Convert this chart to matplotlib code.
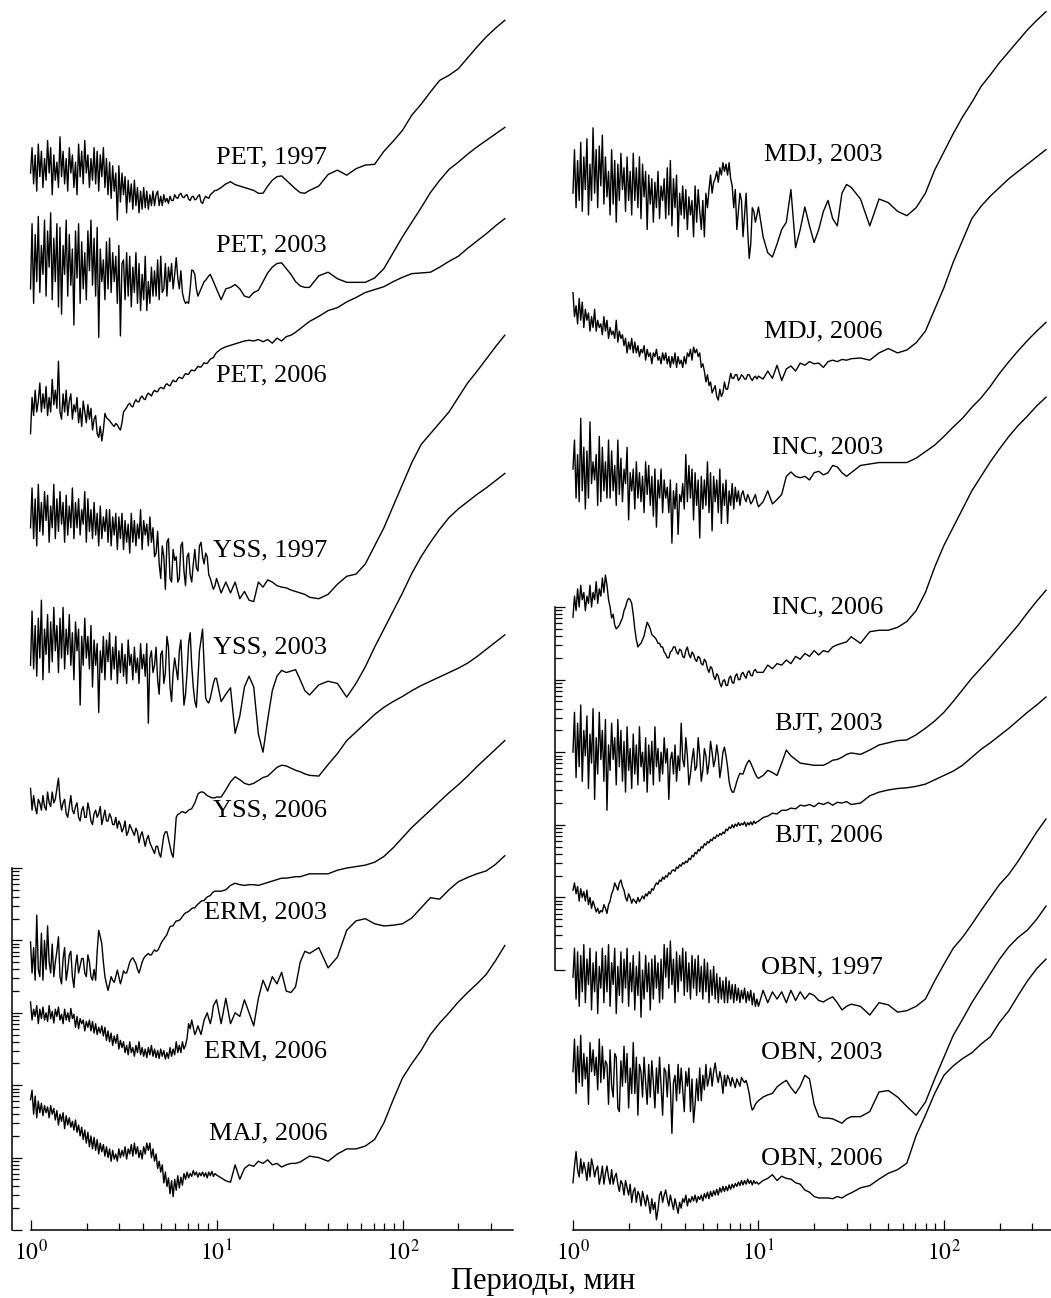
import numpy as np
import matplotlib
matplotlib.use("Agg")
import matplotlib.pyplot as plt
from matplotlib.ticker import FixedLocator, FixedFormatter, NullFormatter

plt.rcParams["font.family"] = ["Liberation Serif", "DejaVu Serif"]
plt.rcParams["mathtext.fontset"] = "stix"

# periods, minutes (shared sampling of all spectra)
PERIODS = [1.000, 1.019, 1.039, 1.059, 1.080, 1.101, 1.122, 1.144, 1.166, 1.189,
           1.212, 1.235, 1.259, 1.283, 1.308, 1.334, 1.359, 1.386, 1.413, 1.440,
           1.468, 1.496, 1.525, 1.555, 1.585, 1.616, 1.647, 1.679, 1.711, 1.745,
           1.778, 1.813, 1.848, 1.884, 1.920, 1.957, 1.995, 2.034, 2.073, 2.113,
           2.154, 2.196, 2.239, 2.282, 2.326, 2.371, 2.417, 2.464, 2.512, 2.560,
           2.610, 2.661, 2.712, 2.765, 2.818, 2.873, 2.929, 2.985, 3.043, 3.102,
           3.162, 3.223, 3.286, 3.350, 3.415, 3.481, 3.548, 3.617, 3.687, 3.758,
           3.831, 3.905, 3.981, 4.058, 4.137, 4.217, 4.299, 4.382, 4.467, 4.553,
           4.642, 4.732, 4.823, 4.917, 5.012, 5.109, 5.208, 5.309, 5.412, 5.516,
           5.623, 5.732, 5.843, 5.957, 6.072, 6.190, 6.310, 6.432, 6.556, 6.683,
           6.813, 6.945, 7.079, 7.217, 7.356, 7.499, 7.644, 7.792, 7.943, 8.097,
           8.254, 8.414, 8.577, 8.743, 8.913, 9.085, 9.261, 9.441, 9.624, 9.810,
           10.00,
           10.59, 11.22, 11.89, 12.59, 13.34, 14.13, 14.96, 15.85, 16.79, 17.78,
           18.84, 19.95, 21.13, 22.39, 23.71, 25.12, 26.61, 28.18, 29.85,
           31.62, 35.48, 39.81, 44.67, 50.12, 56.23, 63.10, 70.79, 79.43, 89.13,
           100.0, 112.2, 125.9, 141.3, 158.5, 177.8, 199.5, 223.9, 251.2, 281.8,
           316.2, 354.8]

# spectra, log10 of amplitude, stacked as in the figure
PET_1997 = ([14.6, 14.95, 14.45, 14.85, 14.35, 15.0, 14.55, 14.9, 14.4, 14.8,
             14.5, 15.05, 14.6, 14.95, 14.3, 14.85, 14.5, 14.75, 14.4, 15.1,
             14.55, 14.9, 14.45, 14.8, 14.35, 14.95, 14.6, 14.85, 14.4, 14.75,
             14.3, 15.0, 14.55, 14.9, 14.45, 15.05, 14.6, 14.85, 14.4, 14.8,
             14.5, 14.95, 14.45, 14.9, 14.35, 14.85, 14.55, 14.95, 14.4, 14.8,
             14.3, 14.75, 14.25, 14.7, 14.35, 14.6, 13.95, 14.7, 14.2, 14.6,
             14.3, 14.55, 14.05, 14.5, 14.2, 14.45, 14.1, 14.5, 14.15, 14.4,
             14.05, 14.35, 14.1, 14.4, 14.12, 14.35, 14.1, 14.3, 14.15, 14.35,
             14.15, 14.3, 14.35, 14.15, 14.28, 14.15, 14.3, 14.2, 14.25, 14.18,
             14.28, 14.22, 14.22, 14.3, 14.26, 14.25, 14.3, 14.32, 14.27, 14.26,
             14.29, 14.3, 14.24, 14.22, 14.27, 14.28, 14.23, 14.24, 14.28, 14.3,
             14.2, 14.18, 14.24, 14.28, 14.26, 14.25, 14.3, 14.32, 14.34, 14.36,
             14.36]
            + [14.4, 14.45, 14.48, 14.44, 14.42, 14.4, 14.38, 14.36, 14.32, 14.32,
               14.42, 14.5, 14.55, 14.56, 14.5, 14.44, 14.38, 14.33, 14.32]
            + [14.36, 14.42, 14.58, 14.64, 14.57, 14.66, 14.71, 14.72, 14.9, 15.04,
               15.19, 15.4, 15.55, 15.72, 15.88, 15.95, 16.04, 16.19, 16.34, 16.48,
               16.6, 16.71])
PET_2003 = ([13.0, 13.9, 12.8, 13.75, 13.1, 14.0, 12.95, 13.6, 13.2, 13.95,
             12.9, 13.8, 13.3, 14.05, 12.85, 13.7, 13.1, 13.9, 12.75, 13.85,
             12.65, 13.6, 13.2, 13.95, 12.9, 13.75, 13.05, 13.55, 12.5, 13.8,
             13.15, 13.9, 12.8, 13.65, 13.0, 13.5, 12.85, 13.8, 13.25, 13.95,
             13.05, 13.7, 12.9, 13.85, 12.33, 13.55, 13.1, 13.4, 12.85, 13.65,
             13.0, 13.7, 12.95, 13.5, 13.1, 13.45, 12.8, 13.6, 12.35, 13.35,
             13.4, 12.85, 13.5, 12.9, 13.45, 12.75, 13.3, 12.95, 13.5, 12.8,
             13.35, 12.7, 13.2, 12.85, 13.45, 12.7, 13.1, 12.8, 13.3, 12.9,
             13.25, 12.9, 13.4, 12.85, 13.45, 12.95, 13.0, 13.35, 12.9, 13.3,
             13.1, 13.35, 13.0, 13.2, 13.43, 13.15, 13.0, 13.25, 12.95, 12.85,
             12.8, 12.82, 12.8, 13.0, 13.26, 13.25, 13.2, 13.0, 12.9, 12.95,
             13.0, 13.05, 13.1, 13.12, 13.15, 13.18, 13.2, 13.15, 13.1, 13.05,
             13.0]
            + [12.85, 13.0, 13.02, 13.06, 13.0, 12.9, 12.88, 12.95, 12.98, 13.1,
               13.22, 13.3, 13.35, 13.36, 13.28, 13.2, 13.1, 13.04, 13.02]
            + [13.02, 13.18, 13.23, 13.14, 13.09, 13.09, 13.09, 13.15, 13.28, 13.5,
               13.72, 13.92, 14.12, 14.33, 14.5, 14.65, 14.75, 14.86, 14.96, 15.05,
               15.14, 15.23])
PET_2006 = ([11.0, 11.5, 11.25, 11.6, 11.3, 11.45, 11.7, 11.3, 11.55, 11.35,
             11.65, 11.25, 11.5, 11.3, 11.75, 11.4, 11.6, 11.35, 12.0, 11.3,
             11.2, 11.55, 11.3, 11.6, 11.25, 11.45, 11.55, 11.2, 11.4, 11.3,
             11.5, 11.15, 11.35, 11.1, 11.45, 11.3, 11.15, 11.4, 11.2, 11.35,
             11.05, 11.2, 11.25, 11.0, 10.95, 11.1, 10.9, 11.05, 11.28, 11.22,
             11.2, 11.18, 11.15, 11.12, 11.1, 11.14, 11.12, 11.08, 11.05, 11.15,
             11.3, 11.33, 11.36, 11.4, 11.42, 11.38, 11.37, 11.43, 11.47, 11.44,
             11.44, 11.5, 11.52, 11.48, 11.47, 11.53, 11.56, 11.54, 11.52, 11.57,
             11.6, 11.58, 11.58, 11.62, 11.64, 11.63, 11.62, 11.67, 11.69, 11.67,
             11.66, 11.7, 11.74, 11.72, 11.72, 11.76, 11.78, 11.77, 11.76, 11.8,
             11.83, 11.82, 11.82, 11.86, 11.88, 11.87, 11.87, 11.9, 11.93, 11.92,
             11.92, 11.95, 11.98, 11.97, 11.97, 12.0, 12.03, 12.04, 12.05, 12.09,
             12.12]
            + [12.17, 12.2, 12.22, 12.24, 12.26, 12.28, 12.29, 12.28, 12.3, 12.27,
               12.3, 12.25, 12.32, 12.28, 12.34, 12.36, 12.4, 12.45, 12.5]
            + [12.55, 12.62, 12.7, 12.74, 12.82, 12.88, 12.95, 12.99, 13.03, 13.1,
               13.16, 13.21, 13.22, 13.23, 13.3, 13.38, 13.45, 13.56, 13.66, 13.76,
               13.87, 13.97])
YSS_1997 = ([9.7, 10.25, 9.55, 10.1, 9.45, 10.3, 9.65, 10.05, 9.6, 10.2,
             9.8, 10.15, 9.5, 10.0, 9.7, 10.3, 9.55, 10.1, 9.65, 10.2,
             9.75, 10.05, 9.5, 10.15, 9.6, 10.0, 9.7, 10.25, 9.55, 10.05,
             9.7, 10.1, 9.6, 9.95, 9.75, 10.2, 9.5, 10.1, 9.65, 9.95,
             9.55, 10.05, 9.6, 9.9, 9.45, 10.0, 9.55, 9.85, 9.65, 9.95,
             9.5, 9.95, 9.45, 9.85, 9.6, 9.9, 9.4, 9.85, 9.55, 9.9,
             9.4, 9.8, 9.5, 9.75, 9.35, 9.9, 9.5, 9.8, 9.45, 9.75,
             9.55, 9.95, 9.4, 9.8, 9.6, 9.75, 9.45, 9.85, 9.5, 9.7,
             9.3, 9.35, 9.65, 9.2, 9.0, 9.45, 9.3, 8.85, 9.5, 9.55,
             9.0, 8.95, 9.4, 9.25, 9.3, 8.95, 9.0, 9.45, 9.5, 9.1,
             8.9, 9.3, 9.35, 9.05, 8.95, 9.2, 9.4, 9.15, 9.1, 9.45,
             9.5, 9.3, 9.2, 9.35, 9.3, 9.05, 9.0, 8.92, 8.85, 8.9,
             9.0]
            + [8.8, 8.95, 8.8, 8.95, 8.72, 8.82, 8.7, 8.68, 8.95, 8.88,
               8.98, 8.95, 8.9, 8.88, 8.87, 8.84, 8.82, 8.8, 8.78]
            + [8.74, 8.72, 8.78, 8.92, 9.03, 9.06, 9.2, 9.45, 9.7, 10.0,
               10.3, 10.6, 10.85, 11.0, 11.15, 11.3, 11.5, 11.7, 11.86, 12.03,
               12.2, 12.36])
YSS_2003 = ([7.8, 8.55, 7.75, 8.35, 7.65, 8.45, 7.9, 8.7, 7.6, 8.3,
             7.95, 8.5, 7.7, 8.4, 7.85, 8.6, 8.0, 8.35, 7.7, 8.45,
             7.9, 8.6, 7.75, 8.3, 7.95, 8.5, 7.8, 8.25, 7.6, 8.4,
             8.0, 8.3, 7.25, 8.2, 7.8, 8.45, 7.9, 8.2, 7.75, 8.35,
             7.5, 8.15, 7.8, 8.1, 7.15, 8.0, 7.7, 8.2, 7.6, 8.15,
             7.85, 8.25, 7.6, 8.05, 7.75, 8.2, 7.55, 8.0, 7.7, 8.1,
             7.65, 7.95, 7.55, 8.15, 7.8, 7.95, 7.6, 8.05, 7.7, 7.9,
             7.55, 8.1, 7.75, 7.95, 7.65, 8.1, 7.0, 7.9, 8.0, 7.7,
             7.8, 8.05, 7.6, 7.4, 7.95, 8.0, 7.55, 7.7, 8.2, 8.05,
             7.5, 7.3, 7.7, 7.9, 7.75, 7.6, 8.0, 8.15, 7.7, 7.25,
             7.4, 7.7, 8.1, 8.25, 7.8, 7.5, 7.3, 7.22, 7.6, 8.0,
             8.15, 8.3, 7.8, 7.35, 7.3, 7.28, 7.35, 7.45, 7.55, 7.62,
             7.62]
            + [7.3, 7.4, 7.49, 6.86, 7.1, 7.5, 7.65, 7.5, 6.85, 6.6,
               7.05, 7.45, 7.65, 7.73, 7.7, 7.72, 7.74, 7.6, 7.45]
            + [7.39, 7.53, 7.58, 7.55, 7.36, 7.55, 7.78, 8.05, 8.3, 8.55,
               8.8, 9.07, 9.3, 9.5, 9.68, 9.84, 9.96, 10.06, 10.16, 10.25,
               10.35, 10.45])
YSS_2006 = ([6.1, 5.8, 6.0, 5.85, 5.75, 5.95, 5.9, 5.8, 6.0, 5.85,
             5.8, 6.05, 5.9, 5.85, 6.05, 5.9, 5.95, 6.1, 6.24, 5.95,
             5.8, 5.9, 5.95, 5.75, 5.7, 5.85, 6.0, 5.8, 5.75, 5.85,
             5.9, 5.7, 5.65, 5.8, 5.85, 5.7, 5.7, 5.9, 5.8, 5.65,
             5.6, 5.75, 5.8, 5.7, 5.75, 5.85, 5.6, 5.7, 5.8, 5.65,
             5.65, 5.75, 5.7, 5.6, 5.6, 5.7, 5.55, 5.65, 5.6, 5.5,
             5.55, 5.65, 5.45, 5.5, 5.6, 5.55, 5.5, 5.45, 5.55, 5.5,
             5.35, 5.45, 5.5, 5.4, 5.3, 5.4, 5.45, 5.35, 5.3, 5.25,
             5.2, 5.3, 5.3, 5.2, 5.15, 5.3, 5.45, 5.5, 5.5, 5.4,
             5.3, 5.2, 5.15, 5.4, 5.7, 5.74, 5.75, 5.77, 5.78, 5.77,
             5.76, 5.78, 5.8, 5.81, 5.82, 5.86, 5.9, 5.96, 6.02, 6.04,
             6.05, 6.05, 6.04, 6.02, 6.0, 5.99, 5.98, 5.97, 5.97, 5.97,
             5.98]
            + [5.98, 6.08, 6.19, 6.26, 6.22, 6.17, 6.15, 6.17, 6.21, 6.25,
               6.27, 6.33, 6.39, 6.42, 6.41, 6.38, 6.35, 6.33, 6.3]
            + [6.28, 6.27, 6.43, 6.58, 6.76, 6.88, 7.0, 7.12, 7.22, 7.3,
               7.37, 7.45, 7.52, 7.58, 7.64, 7.7, 7.76, 7.83, 7.92, 8.02,
               8.12, 8.22])
ERM_2003 = ([3.98, 3.55, 3.9, 3.45, 4.35, 3.6, 3.5, 4.1, 3.45, 4.0,
             3.6, 4.2, 3.7, 3.55, 3.95, 3.5, 3.7, 3.85, 4.05, 3.5,
             3.4, 3.75, 3.9, 3.45, 3.6, 3.8, 3.85, 3.5, 3.35, 3.65,
             3.8, 3.55, 3.65, 3.75, 3.75, 3.55, 3.5, 3.8, 3.7, 3.5,
             3.45, 3.6, 3.45, 3.85, 4.14, 4.05, 3.95, 3.7, 3.5, 3.4,
             3.31, 3.4, 3.5, 3.45, 3.42, 3.5, 3.59, 3.5, 3.4, 3.48,
             3.58, 3.55, 3.55, 3.62, 3.7, 3.74, 3.76, 3.72, 3.68, 3.6,
             3.55, 3.62, 3.7, 3.75, 3.78, 3.8, 3.82, 3.8, 3.8, 3.84,
             3.87, 3.85, 3.86, 3.9, 3.95, 3.99, 4.02, 4.05, 4.08, 4.14,
             4.19, 4.2, 4.2, 4.24, 4.27, 4.27, 4.28, 4.3, 4.33, 4.36,
             4.38, 4.39, 4.4, 4.42, 4.44, 4.45, 4.45, 4.48, 4.5, 4.52,
             4.54, 4.55, 4.55, 4.58, 4.6, 4.61, 4.62, 4.65, 4.67, 4.68,
             4.68]
            + [4.68, 4.7, 4.76, 4.79, 4.77, 4.76, 4.77, 4.77, 4.76, 4.78,
               4.8, 4.82, 4.84, 4.86, 4.86, 4.87, 4.88, 4.88, 4.9]
            + [4.92, 4.92, 4.92, 4.97, 5.0, 5.02, 5.04, 5.08, 5.16, 5.28,
               5.42, 5.56, 5.68, 5.8, 5.92, 6.04, 6.15, 6.27, 6.4, 6.52,
               6.64, 6.76])
ERM_2006 = ([3.15, 2.9, 3.05, 2.95, 3.1, 2.85, 3.05, 2.92, 3.08, 2.9,
             3.0, 2.88, 3.1, 2.92, 3.02, 2.86, 3.05, 2.95, 3.08, 2.9,
             2.98, 2.85, 3.05, 2.9, 3.0, 2.88, 3.06, 2.92, 2.98, 2.8,
             2.95, 2.78, 2.92, 2.85, 2.9, 2.75, 2.88, 2.8, 2.9, 2.75,
             2.88, 2.72, 2.85, 2.7, 2.8, 2.72, 2.82, 2.68, 2.8, 2.62,
             2.75, 2.6, 2.72, 2.55, 2.68, 2.58, 2.7, 2.5, 2.62, 2.52,
             2.6, 2.45, 2.55, 2.42, 2.6, 2.45, 2.52, 2.4, 2.55, 2.45,
             2.6, 2.42, 2.52, 2.4, 2.5, 2.38, 2.52, 2.42, 2.55, 2.4,
             2.5, 2.38, 2.48, 2.37, 2.5, 2.4, 2.48, 2.36, 2.45, 2.37,
             2.52, 2.4, 2.5, 2.42, 2.6, 2.45, 2.55, 2.45, 2.6, 2.5,
             2.55, 2.65, 2.85, 2.78, 2.9, 2.8, 2.7, 2.75, 2.82, 2.76,
             2.7, 2.8, 2.9, 2.95, 3.0, 2.92, 2.85, 2.95, 3.1, 3.14,
             3.18]
            + [2.85, 3.2, 2.85, 3.0, 2.95, 3.18, 3.0, 2.82, 3.2, 3.45,
               3.3, 3.5, 3.4, 3.56, 3.3, 3.28, 3.36, 3.7, 3.85]
            + [3.82, 3.9, 3.62, 3.77, 4.14, 4.27, 4.3, 4.23, 4.2, 4.21,
               4.23, 4.31, 4.45, 4.59, 4.57, 4.7, 4.81, 4.87, 4.92, 4.96,
               5.05, 5.17])
MAJ_2006 = ([1.8, 1.93, 1.6, 1.85, 1.55, 1.78, 1.62, 1.75, 1.58, 1.72,
             1.62, 1.7, 1.55, 1.72, 1.6, 1.68, 1.52, 1.65, 1.45, 1.6,
             1.5, 1.62, 1.4, 1.58, 1.45, 1.55, 1.42, 1.5, 1.38, 1.52,
             1.35, 1.45, 1.3, 1.42, 1.25, 1.38, 1.2, 1.35, 1.15, 1.3,
             1.12, 1.28, 1.1, 1.25, 1.05, 1.2, 1.08, 1.18, 1.02, 1.15,
             1.0, 1.12, 0.95, 1.1, 0.98, 1.05, 0.95, 1.12, 1.0, 1.1,
             1.02, 1.15, 0.98, 1.12, 1.05, 1.18, 1.02, 1.2, 1.05, 1.15,
             1.0, 1.1, 0.98, 1.15, 1.05, 1.2, 1.1, 1.2, 1.0, 1.12,
             0.95, 1.05, 0.85, 0.95, 0.8, 0.9, 0.65, 0.8, 0.6, 0.72,
             0.5, 0.68, 0.46, 0.7, 0.55, 0.75, 0.58, 0.73, 0.62, 0.78,
             0.7, 0.8, 0.72, 0.78, 0.74, 0.82, 0.76, 0.8, 0.73, 0.79,
             0.75, 0.8, 0.74, 0.79, 0.72, 0.8, 0.75, 0.81, 0.74, 0.78,
             0.76]
            + [0.72, 0.68, 0.66, 0.9, 0.7, 0.85, 0.9, 0.88, 0.95, 0.92,
               0.97, 0.9, 0.92, 0.87, 0.9, 0.92, 0.92, 0.94, 0.98]
            + [1.02, 1.0, 0.95, 1.05, 1.12, 1.12, 1.16, 1.25, 1.48, 1.8,
               2.1, 2.3, 2.48, 2.7, 2.86, 3.0, 3.15, 3.28, 3.4, 3.53,
               3.72, 3.93])

MDJ_2003 = ([10.7, 11.3, 10.5, 11.15, 10.6, 11.4, 10.45, 11.2, 10.75, 11.45,
             10.4, 11.1, 10.6, 11.6, 10.7, 11.3, 10.5, 11.35, 10.8, 11.5,
             10.55, 11.2, 10.65, 11.0, 10.4, 11.3, 10.55, 11.15, 10.3, 11.1,
             10.6, 11.25, 10.75, 11.05, 10.45, 11.2, 10.6, 11.0, 10.4, 11.25,
             10.6, 11.05, 10.5, 11.2, 10.35, 11.1, 10.65, 11.0, 10.2, 10.95,
             10.55, 10.9, 10.3, 10.85, 10.5, 11.0, 10.35, 10.8, 10.6, 10.9,
             10.35, 11.05, 10.4, 11.15, 10.25, 10.9, 10.5, 10.95, 10.1, 10.7,
             10.4, 10.8, 10.35, 10.75, 10.2, 10.65, 10.4, 10.6, 10.1, 10.8,
             10.3, 10.75, 10.45, 10.2, 10.6, 10.1, 10.7, 10.5, 10.75, 10.95,
             10.7, 10.85, 10.9, 11.0, 10.85, 11.05, 10.95, 11.12, 11.0, 11.1,
             10.95, 11.12, 10.9, 10.8, 10.5, 10.75, 10.2, 10.45, 10.7, 10.6,
             10.1, 10.4, 10.7, 10.2, 9.8, 10.0, 10.5, 10.45, 10.3, 10.4,
             10.51]
            + [10.1, 9.88, 9.82, 10.0, 10.2, 10.3, 10.75, 9.95, 10.2, 10.51,
               10.25, 10.02, 10.2, 10.45, 10.6, 10.35, 10.25, 10.7, 10.82]
            + [10.78, 10.62, 10.25, 10.62, 10.57, 10.45, 10.39, 10.5, 10.7, 11.02,
               11.27, 11.52, 11.75, 11.95, 12.17, 12.33, 12.5, 12.65, 12.8, 12.95,
               13.08, 13.2])
MDJ_2006 = ([9.33, 9.0, 9.15, 8.9, 9.25, 8.95, 9.2, 8.85, 9.1, 8.95,
             9.05, 8.8, 9.0, 8.85, 9.1, 8.8, 8.95, 8.85, 8.9, 8.75,
             9.0, 8.8, 8.95, 8.7, 8.85, 8.75, 8.8, 8.7, 8.95, 8.65,
             8.8, 8.7, 8.75, 8.6, 8.7, 8.5, 8.65, 8.55, 8.7, 8.5,
             8.65, 8.5, 8.6, 8.45, 8.55, 8.5, 8.6, 8.4, 8.55, 8.45,
             8.5, 8.35, 8.5, 8.45, 8.55, 8.4, 8.45, 8.35, 8.5, 8.4,
             8.5, 8.35, 8.45, 8.3, 8.45, 8.35, 8.5, 8.3, 8.45, 8.35,
             8.4, 8.3, 8.45, 8.35, 8.5, 8.45, 8.55, 8.4, 8.58, 8.5,
             8.55, 8.45, 8.5, 8.3, 8.35, 8.25, 8.1, 8.2, 8.05, 8.1,
             7.95, 8.0, 8.05, 7.9, 7.85, 8.0, 7.9, 7.95, 8.1, 8.0,
             8.0, 8.1, 8.22, 8.15, 8.15, 8.2, 8.2, 8.12, 8.15, 8.2,
             8.18, 8.14, 8.14, 8.2, 8.2, 8.15, 8.12, 8.16, 8.18, 8.14,
             8.18]
            + [8.14, 8.25, 8.15, 8.33, 8.12, 8.28, 8.32, 8.25, 8.36, 8.33,
               8.38, 8.35, 8.36, 8.3, 8.38, 8.4, 8.38, 8.41, 8.4]
            + [8.42, 8.43, 8.4, 8.5, 8.56, 8.5, 8.54, 8.64, 8.8, 9.1,
               9.4, 9.75, 10.05, 10.35, 10.52, 10.66, 10.78, 10.9, 11.0, 11.1,
               11.2, 11.3])
INC_2003 = ([6.9, 7.3, 6.5, 7.1, 6.45, 7.6, 6.6, 7.2, 6.35, 7.15,
             6.5, 7.55, 6.7, 7.0, 6.75, 7.1, 6.4, 7.35, 6.45, 7.2,
             6.6, 7.0, 6.5, 7.3, 6.5, 7.15, 6.6, 6.95, 6.4, 7.3,
             6.55, 7.05, 6.45, 6.9, 6.7, 7.2, 6.2, 6.85, 6.6, 6.9,
             6.35, 7.0, 6.5, 6.85, 6.45, 6.8, 6.3, 7.0, 6.55, 6.95,
             6.4, 6.8, 6.25, 6.9, 6.1, 6.75, 6.5, 6.9, 6.3, 6.75,
             6.5, 6.65, 6.3, 6.75, 5.88, 6.6, 6.35, 6.7, 6.0, 6.55,
             6.45, 6.7, 6.35, 7.1, 6.45, 6.95, 6.5, 6.9, 6.2, 6.85,
             6.4, 6.75, 5.95, 6.8, 6.35, 6.75, 6.4, 7.0, 6.3, 6.85,
             6.05, 6.8, 6.45, 6.75, 6.3, 6.9, 6.15, 6.7, 6.4, 6.75,
             6.15, 6.6, 6.4, 6.7, 6.35, 6.65, 6.45, 6.6, 6.4, 6.55,
             6.6, 6.5, 6.45, 6.55, 6.5, 6.42, 6.45, 6.5, 6.55, 6.45,
             6.38]
            + [6.45, 6.6, 6.42, 6.48, 6.55, 6.8, 6.86, 6.8, 6.78, 6.8,
               6.75, 6.85, 6.87, 6.82, 6.85, 6.95, 6.93, 6.85, 6.8]
            + [6.85, 6.95, 6.97, 6.99, 6.99, 6.99, 6.99, 7.05, 7.14, 7.23,
               7.35, 7.48, 7.6, 7.75, 7.88, 8.04, 8.22, 8.38, 8.53, 8.67,
               8.8, 8.92])
INC_2006 = ([4.86, 5.15, 4.95, 5.25, 5.0, 5.3, 5.1, 5.2, 4.95, 5.15,
             5.05, 5.3, 5.0, 5.2, 5.1, 5.35, 5.05, 5.25, 5.15, 5.4,
             5.2, 5.44, 5.3, 5.1, 5.0, 4.85, 4.9, 4.75, 4.7, 4.72,
             4.75, 4.8, 4.85, 4.95, 5.0, 5.08, 5.12, 5.1, 5.05, 4.9,
             4.7, 4.55, 4.45, 4.48, 4.5, 4.55, 4.6, 4.7, 4.79, 4.75,
             4.7, 4.62, 4.6, 4.58, 4.55, 4.5, 4.5, 4.45, 4.45, 4.38,
             4.35, 4.3, 4.3, 4.38, 4.4, 4.45, 4.45, 4.38, 4.35, 4.42,
             4.4, 4.32, 4.3, 4.4, 4.45, 4.35, 4.3, 4.38, 4.35, 4.28,
             4.25, 4.32, 4.3, 4.22, 4.2, 4.28, 4.25, 4.15, 4.1, 4.18,
             4.15, 4.05, 4.0, 4.08, 4.05, 3.95, 3.9, 3.98, 4.0, 3.92,
             3.92, 4.02, 4.05, 3.96, 3.95, 4.05, 4.08, 4.0, 4.0, 4.08,
             4.1, 4.05, 4.02, 4.1, 4.12, 4.06, 4.05, 4.12, 4.14, 4.1,
             4.1]
            + [4.1, 4.2, 4.15, 4.22, 4.2, 4.27, 4.22, 4.32, 4.28, 4.36,
               4.32, 4.4, 4.34, 4.4, 4.38, 4.45, 4.48, 4.5, 4.52]
            + [4.59, 4.5, 4.66, 4.68, 4.68, 4.72, 4.8, 4.95, 5.2, 5.55,
               5.85, 6.1, 6.35, 6.6, 6.8, 7.0, 7.18, 7.35, 7.5, 7.63,
               7.77, 7.89])
BJT_2003 = ([3.0, 3.55, 2.65, 3.4, 2.8, 3.65, 2.6, 3.3, 2.95, 3.5,
             2.5, 3.25, 2.85, 3.6, 2.35, 3.2, 2.7, 3.55, 2.9, 3.3,
             2.6, 3.45, 2.2, 3.1, 2.75, 3.4, 2.9, 3.2, 2.55, 3.45,
             2.8, 3.3, 2.6, 3.15, 2.45, 3.35, 2.75, 3.05, 2.5, 3.25,
             2.7, 3.1, 2.55, 3.35, 2.8, 3.0, 2.6, 3.2, 2.45, 3.1,
             2.7, 3.15, 2.55, 3.35, 2.8, 3.05, 2.6, 3.0, 2.7, 3.2,
             2.85, 3.05, 2.35, 2.9, 3.0, 2.7, 3.1, 2.6, 2.95, 2.75,
             3.4, 2.9, 2.8, 3.2, 2.95, 2.55, 2.7, 2.9, 3.05, 2.75,
             2.8, 3.2, 2.95, 2.6, 2.75, 3.05, 2.95, 2.7, 2.85, 3.15,
             3.0, 2.8, 2.9, 3.1, 2.95, 2.65, 2.8, 3.0, 3.07, 2.95,
             2.8, 2.6, 2.5, 2.45, 2.45, 2.52, 2.6, 2.66, 2.71, 2.7,
             2.7, 2.76, 2.82, 2.86, 2.89, 2.85, 2.8, 2.75, 2.7, 2.66,
             2.64]
            + [2.68, 2.75, 2.72, 2.68, 2.85, 3.03, 2.95, 2.9, 2.85, 2.84,
               2.83, 2.82, 2.82, 2.82, 2.85, 2.89, 2.9, 2.93, 2.97]
            + [2.99, 2.97, 3.03, 3.1, 3.13, 3.16, 3.17, 3.24, 3.33, 3.43,
               3.55, 3.7, 3.86, 4.02, 4.16, 4.3, 4.45, 4.6, 4.75, 4.92,
               5.08, 5.23])
BJT_2006 = ([1.1, 1.2, 1.05, 1.15, 0.95, 1.12, 1.0, 1.08, 0.95, 1.1,
             0.9, 1.0, 0.85, 0.95, 0.88, 0.8, 0.85, 0.78, 0.82, 0.8,
             0.9, 0.85, 0.78, 0.9, 0.95, 1.05, 1.1, 1.2, 1.15, 1.1,
             1.2, 1.24, 1.15, 1.1, 1.0, 0.95, 1.05, 1.0, 0.92, 0.98,
             0.95, 0.92, 1.0, 0.94, 0.98, 1.02, 0.98, 1.05, 1.02, 1.08,
             1.05, 1.12, 1.1, 1.16, 1.2, 1.18, 1.24, 1.22, 1.28, 1.25,
             1.3, 1.28, 1.34, 1.32, 1.37, 1.38, 1.36, 1.42, 1.4, 1.45,
             1.43, 1.48, 1.46, 1.5, 1.48, 1.54, 1.52, 1.58, 1.56, 1.62,
             1.6, 1.66, 1.64, 1.7, 1.68, 1.74, 1.72, 1.77, 1.75, 1.8,
             1.78, 1.83, 1.81, 1.86, 1.84, 1.88, 1.86, 1.9, 1.88, 1.94,
             1.92, 1.97, 1.95, 2.0, 1.96, 2.01, 1.98, 2.03, 1.99, 2.02,
             2.0, 2.04, 1.98, 2.03, 2.0, 2.04, 2.0, 2.05, 2.02, 2.04,
             2.05]
            + [2.1, 2.12, 2.16, 2.15, 2.2, 2.2, 2.23, 2.22, 2.27, 2.26,
               2.28, 2.25, 2.3, 2.28, 2.31, 2.27, 2.31, 2.3, 2.32]
            + [2.28, 2.3, 2.4, 2.45, 2.48, 2.5, 2.51, 2.53, 2.56, 2.62,
               2.68, 2.74, 2.82, 2.93, 3.04, 3.13, 3.23, 3.33, 3.44, 3.55,
               3.65, 3.76])
OBN_1997 = ([-0.1, 0.3, -0.4, 0.25, -0.5, 0.2, -0.3, 0.35, -0.45, 0.15,
             -0.2, 0.3, -0.55, 0.1, -0.3, 0.25, -0.6, 0.05, -0.25, 0.3,
             -0.45, 0.2, -0.3, 0.35, -0.5, 0.1, -0.2, 0.3, -0.6, 0.05,
             -0.35, 0.25, -0.45, 0.15, -0.25, 0.3, -0.5, 0.1, -0.3, 0.2,
             -0.55, 0.05, -0.35, 0.25, -0.65, 0.0, -0.4, 0.2, -0.3, 0.1,
             -0.55, 0.15, -0.4, 0.2, -0.25, 0.1, -0.45, 0.15, -0.4, 0.35,
             -0.1, 0.3, -0.25, 0.4, -0.2, 0.15, -0.45, 0.25, -0.3, 0.2,
             -0.15, 0.3, -0.35, 0.25, -0.3, 0.1, -0.4, 0.2, -0.25, 0.15,
             -0.35, 0.2, -0.3, 0.05, -0.4, 0.15, -0.3, 0.1, -0.45, 0.0,
             -0.35, 0.05, -0.4, -0.05, -0.45, -0.1, -0.4, -0.15, -0.45, -0.1,
             -0.45, -0.15, -0.4, -0.2, -0.45, -0.2, -0.42, -0.25, -0.45, -0.28,
             -0.4, -0.25, -0.45, -0.3, -0.42, -0.28, -0.48, -0.32, -0.5, -0.4,
             -0.5]
            + [-0.28, -0.45, -0.3, -0.4, -0.3, -0.45, -0.28, -0.42, -0.3, -0.4,
               -0.32, -0.35, -0.42, -0.44, -0.4, -0.37, -0.45, -0.55, -0.5]
            + [-0.47, -0.5, -0.62, -0.45, -0.48, -0.58, -0.56, -0.5, -0.4, -0.15,
               0.08, 0.3, 0.45, 0.63, 0.82, 1.0, 1.18, 1.32, 1.5, 1.7,
               1.9, 2.08])
OBN_2003 = ([-1.4, -0.95, -1.7, -1.05, -1.55, -0.9, -1.6, -1.15, -1.5, -1.2,
             -1.85, -1.0, -1.4, -1.1, -1.45, -1.2, -1.65, -0.95, -1.55, -1.05,
             -1.5, -1.25, -1.3, -1.85, -1.1, -1.6, -1.75, -1.15, -1.2, -1.9,
             -1.95, -1.25, -1.6, -1.05, -1.55, -1.15, -1.9, -1.35, -1.7, -1.0,
             -1.7, -1.2, -2.0, -1.3, -1.4, -1.75, -1.2, -1.55, -1.85, -1.3,
             -1.75, -1.25, -1.55, -1.9, -1.35, -1.7, -1.2, -1.6, -2.0, -1.35,
             -1.4, -1.75, -1.3, -1.6, -2.25, -1.55, -1.45, -1.8, -1.3, -1.7,
             -1.35, -1.65, -1.95, -1.4, -1.6, -1.35, -1.95, -1.5, -2.1, -1.85,
             -1.5, -1.8, -1.35, -1.8, -1.45, -1.65, -1.3, -1.6, -1.5, -1.35,
             -1.6, -1.4, -1.28, -1.45, -1.55, -1.4, -1.5, -1.7, -1.45, -1.6,
             -1.45, -1.5, -1.6, -1.48, -1.55, -1.62, -1.5, -1.55, -1.6, -1.48,
             -1.52, -1.55, -1.52, -1.6, -1.7, -1.85, -1.93, -1.9, -1.85, -1.82,
             -1.8]
            + [-1.75, -1.72, -1.7, -1.61, -1.56, -1.52, -1.62, -1.7, -1.6, -1.45,
               -1.5, -1.85, -2.02, -2.04, -2.04, -2.05, -2.08, -2.11, -2.05]
            + [-2.02, -2.02, -1.95, -1.68, -1.66, -1.75, -1.88, -2.0, -1.82, -1.5,
               -1.2, -0.9, -0.68, -0.45, -0.25, -0.05, 0.15, 0.32, 0.45, 0.55,
               0.7, 0.88])
OBN_2006 = ([-2.93, -2.7, -2.5, -2.75, -2.85, -2.6, -2.8, -2.65, -2.75, -2.9,
             -2.65, -2.85, -2.6, -2.7, -2.85, -2.75, -2.7, -2.95, -2.85, -2.7,
             -2.95, -2.8, -2.7, -2.85, -2.95, -2.75, -2.95, -2.85, -2.8, -2.95,
             -3.05, -2.9, -2.95, -3.1, -2.9, -3.0, -3.1, -2.95, -3.2, -3.05,
             -3.0, -3.2, -3.05, -3.1, -3.25, -3.05, -3.15, -3.25, -3.1, -3.2,
             -3.35, -3.15, -3.3, -3.2, -3.44, -3.3, -3.1, -3.05, -3.2, -3.1,
             -3.03, -3.15, -3.25, -3.1, -3.2, -3.3, -3.15, -3.25, -3.35, -3.2,
             -3.28, -3.15, -3.2, -3.1, -3.25, -3.15, -3.2, -3.12, -3.18, -3.1,
             -3.2, -3.12, -3.16, -3.1, -3.18, -3.08, -3.14, -3.06, -3.15, -3.05,
             -3.12, -3.04, -3.1, -3.02, -3.1, -3.0, -3.06, -2.98, -3.05, -2.98,
             -3.04, -2.96, -3.02, -2.95, -3.0, -2.94, -2.98, -2.92, -2.97, -2.9,
             -2.96, -2.9, -2.95, -2.88, -2.94, -2.9, -2.96, -2.9, -2.94, -2.92,
             -2.95]
            + [-2.9, -2.87, -2.82, -2.9, -2.84, -2.87, -2.88, -2.93, -2.95, -3.03,
               -3.06, -3.12, -3.14, -3.14, -3.14, -3.15, -3.12, -3.14, -3.1]
            + [-3.07, -3.0, -2.97, -2.88, -2.8, -2.75, -2.66, -2.28, -2.0, -1.7,
               -1.45, -1.32, -1.22, -1.14, -1.02, -0.92, -0.72, -0.56, -0.35, -0.15,
               0.02, 0.15])

LEFT_CURVES = [PET_1997, PET_2003, PET_2006, YSS_1997, YSS_2003, YSS_2006,
               ERM_2003, ERM_2006, MAJ_2006]
LEFT_NAMES = ["PET, 1997", "PET, 2003", "PET, 2006", "YSS, 1997", "YSS, 2003",
              "YSS, 2006", "ERM, 2003", "ERM, 2006", "MAJ, 2006"]
RIGHT_CURVES = [MDJ_2003, MDJ_2006, INC_2003, INC_2006, BJT_2003, BJT_2006,
                OBN_1997, OBN_2003, OBN_2006]
RIGHT_NAMES = ["MDJ, 2003", "MDJ, 2006", "INC, 2003", "INC, 2006", "BJT, 2003",
               "BJT, 2006", "OBN, 1997", "OBN, 2003", "OBN, 2006"]

# label anchors (log10 amplitude of the label centre)
LEFT_LABEL_Y = [14.82, 13.6, 11.81, 9.39, 8.04, 5.8, 4.38, 2.46, 1.34]
RIGHT_LABEL_Y = [11.23, 8.79, 7.2, 4.99, 3.4, 1.85, 0.04, -1.14, -2.59]


def setup_axes(ax, xmin, xmax, ylog_min, ylog_max):
    ax.set_xscale("log")
    ax.set_yscale("log")
    ax.set_xlim(xmin, xmax)
    ax.set_ylim(10.0 ** ylog_min, 10.0 ** ylog_max)
    ax.patch.set_alpha(0)
    for side in ("top", "right"):
        ax.spines[side].set_visible(False)
    ax.spines["bottom"].set_bounds(1, xmax)
    ax.spines["left"].set_bounds(1, 1e5)
    for side in ("bottom", "left"):
        ax.spines[side].set_linewidth(1.1)

    ax.xaxis.set_major_locator(FixedLocator([1, 10, 100]))
    ax.xaxis.set_major_formatter(FixedFormatter([r"$10^0$", r"$10^1$", r"$10^2$"]))
    xminor = [m * 10 ** e for e in (0, 1) for m in range(2, 10)] + [200, 300]
    ax.xaxis.set_minor_locator(FixedLocator(xminor))
    ax.xaxis.set_minor_formatter(NullFormatter())

    ax.yaxis.set_major_locator(FixedLocator([10.0 ** k for k in range(6)]))
    ax.yaxis.set_major_formatter(NullFormatter())
    yminor = [m * 10.0 ** k for k in range(5) for m in range(2, 10)]
    ax.yaxis.set_minor_locator(FixedLocator(yminor))
    ax.yaxis.set_minor_formatter(NullFormatter())

    ax.tick_params(which="both", direction="in", width=0.9, top=False, right=False)
    ax.tick_params(which="major", length=7, labelsize=17, pad=7)
    ax.tick_params(which="minor", length=4.7)


def draw_panel(ax, curves, names, label_y, label_x):
    for curve, name, ly in zip(curves, names, label_y):
        assert len(curve) == len(PERIODS), (name, len(curve))
        ax.plot(PERIODS, 10.0 ** np.asarray(curve), color="black", lw=1.0)
        ax.text(label_x, 10.0 ** ly, name, ha="right", va="center", fontsize=19)


fig = plt.figure(figsize=(10.51, 12.98), dpi=100)

ax_left = fig.add_axes([12 / 1051, 68 / 1298, 501 / 1051, 1230 / 1298])
setup_axes(ax_left, 0.795, 392.7, 0.0, 16.99)
draw_panel(ax_left, LEFT_CURVES, LEFT_NAMES, LEFT_LABEL_Y, 39.3)

ax_right = fig.add_axes([555 / 1051, 68 / 1298, 496 / 1051, 1230 / 1298])
setup_axes(ax_right, 0.80, 377.6, -3.581, 13.361)
draw_panel(ax_right, RIGHT_CURVES, RIGHT_NAMES, RIGHT_LABEL_Y, 46.9)

fig.text(543 / 1051, 16 / 1298, "Периоды, мин", ha="center", va="center", fontsize=22)

fig.savefig("out.png", dpi=100)
